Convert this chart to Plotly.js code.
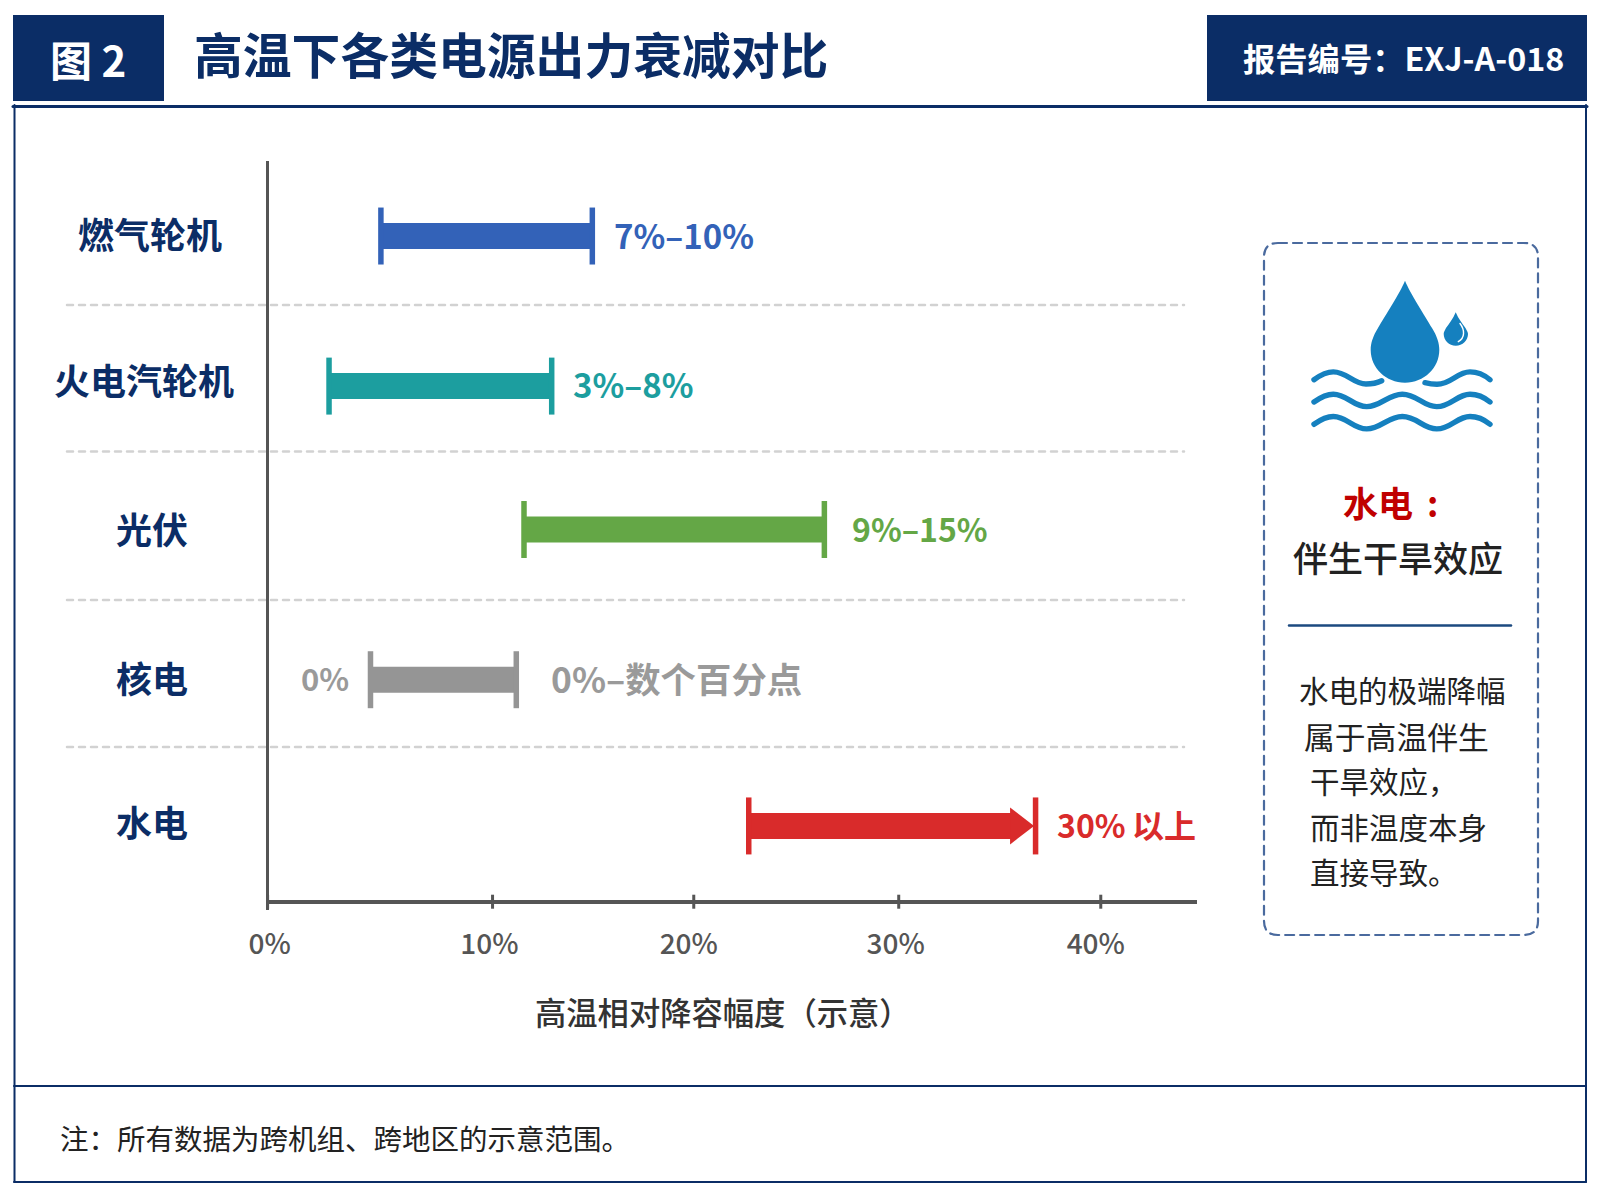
<!DOCTYPE html>
<html>
<head>
<meta charset="utf-8">
<script src="https://cdn.plot.ly/plotly-3.0.1.min.js"></script>
<style>
html,body{margin:0;padding:0;background:#fff}
#chart{width:1600px;height:1200px}
.shapelayer path{stroke-linecap:round}
</style>
</head>
<body>
<div id="chart"></div>
<script>
// ---- chart data ----
const categories = ['燃气轮机','火电汽轮机','光伏','核电','水电'];
const rowCenters = [4.498,3.484,2.515,1.5,0.512];
const rangeStart = [5.44,2.95,12.31,4.94,23.1];
const rangeEnd   = [15.59,13.64,26.73,11.94,36.87];
const bodyEnd    = [15.59,13.64,26.73,11.94,35.7];
const barColors  = ['#3362B8','#1C9E9F','#64A746','#959595','#D92B2B'];
const valueLabels = ['7%–10%','3%–8%','9%–15%','0%–数个百分点','30%\u2009以上'];
const labelColors = ['#3362B8','#1C9E9F','#64A746','#9A9A9A','#D92B2B'];
const labelShift  = [20,19,26,33,19];
const labelLift   = [1,2,2,2,2];
const labelSizes  = [33,33,32,35.4,32];
const arrowHeadAt = 36.03;
const tickPositions = [0,10.8,20.46,30.3,40];
const tickLabelPositions = [0.1,10.65,20.22,30.15,39.76];
const tickLabels = ['0%','10%','20%','30%','40%'];
const noteLines = ['水电的极端降幅','属于高温伴生','干旱效应，','而非温度本身','直接导致。'];
const noteX = [1297,1302,1308,1308,1308];
const noteY = [689,735,780,826,870.5];
const noteSizes = [29.5,30.8,29.5,29.5,29.5];

// ---- layout helpers (page pixels -> paper) ----
const W=1600,H=1200;
const fx=x=>x/W, fy=y=>1-y/H;
const NAVY='#0B2D66', CJK='"Noto Sans CJK SC","Noto Sans",sans-serif';
const rect=(x0,y0,x1,y1,fill)=>({type:'rect',xref:'paper',yref:'paper',x0:fx(x0),x1:fx(x1),y0:fy(y0),y1:fy(y1),fillcolor:fill,line:{width:0},layer:'below'});
const hline=(x0,x1,y,color,width,dash)=>({type:'line',xref:'paper',yref:'paper',x0:fx(x0),x1:fx(x1),y0:fy(y),y1:fy(y),line:{color,width,dash:dash||'solid'},layer:'below'});
const vline=(x,y0,y1,color,width)=>({type:'line',xref:'paper',yref:'paper',x0:fx(x),x1:fx(x),y0:fy(y0),y1:fy(y1),line:{color,width},layer:'below'});
function pathOf(cmds){
  return cmds.map(c=>c[0]+(c.slice(1).map(p=>fx(p[0])+','+fy(p[1])).join(' '))).join(' ')
}
const pathShape=(cmds,opt)=>Object.assign({type:'path',xref:'paper',yref:'paper',path:pathOf(cmds),layer:'above',line:{width:0}},opt);
const txt=(x,y,text,size,color,weight,anchor)=>({xref:'paper',yref:'paper',x:fx(x),y:fy(y),text,showarrow:false,xanchor:anchor||'left',yanchor:'middle',font:{family:CJK,size,color,weight:weight||400}});

const BLUE='#1580BF', NOFILL='rgba(0,0,0,0)', WAVE_W=5.4;
const wave=(dy)=>[['M',[1314,379.7+dy]],['C',[1322,374+dy],[1328,371.9+dy],[1333.3,371.9+dy]],['C',[1347,371.9+dy],[1353,384.3+dy],[1366.7,384.3+dy]],['C',[1381,384.3+dy],[1388,371.9+dy],[1402.3,371.9+dy]],['C',[1417,371.9+dy],[1423,384.3+dy],[1436.7,384.3+dy]],['C',[1451,384.3+dy],[1457,371.9+dy],[1470,371.9+dy]],['C',[1477,371.9+dy],[1484,374.7+dy],[1490,379.7+dy]]];

const r=14, bx0=1264,by0=243,bx1=1538,by1=935;
const shapes=[
  rect(13,15,164,101,NAVY),
  rect(1207,15,1587,101,NAVY),
  hline(13,1587,106.5,NAVY,3),
  vline(14.5,105,1182,NAVY,2),
  vline(1586,105,1182,NAVY,2),
  hline(14,1586,1086,NAVY,2),
  hline(14,1586,1182,NAVY,2),
  hline(67,1184,305,'#D2D2D2',2.5,'6px,6px'),
  hline(67,1184,451.5,'#D2D2D2',2.5,'6px,6px'),
  hline(67,1184,600,'#D2D2D2',2.5,'6px,6px'),
  hline(67,1184,747,'#D2D2D2',2.5,'6px,6px'),
  // side panel
  pathShape([['M',[bx0+r,by0]],['L',[bx1-r,by0]],['Q',[bx1,by0],[bx1,by0+r]],['L',[bx1,by1-r]],['Q',[bx1,by1],[bx1-r,by1]],['L',[bx0+r,by1]],['Q',[bx0,by1],[bx0,by1-r]],['L',[bx0,by0+r]],['Q',[bx0,by0],[bx0+r,by0]]],
    {line:{color:'#4A6A9E',width:2.2,dash:'9px,6px'},fillcolor:NOFILL}),
  hline(1289,1511,625.5,'#1C4A80',2.5),
  // water icon
  pathShape([['M',[1405,280.7]],['C',[1400,293],[1385,316],[1378,328]],['C',[1373,336],[1370.7,343],[1370.7,350]],['C',[1370.7,368],[1386,382.7],[1405,382.7]],['C',[1424,382.7],[1439.3,368],[1439.3,350]],['C',[1439.3,343],[1437,336],[1432,328]],['C',[1425,316],[1410,293],[1405,280.7]],['Z']],{fillcolor:BLUE}),
  pathShape([['M',[1455.7,312.3]],['C',[1453,319],[1449,324],[1446,328]],['C',[1444.5,331],[1443.7,332],[1443.7,334]],['C',[1443.7,340.5],[1449,345.7],[1455.8,345.7]],['C',[1462.6,345.7],[1468,340.5],[1468,334]],['C',[1468,332],[1467,331],[1465.5,328]],['C',[1462.5,324],[1458.5,319],[1455.7,312.3]],['Z']],{fillcolor:BLUE}),
  pathShape([['M',[1460,323.5]],['C',[1465,330],[1465,338],[1458.3,341.7]]],{line:{color:'#FFFFFF',width:1.4},fillcolor:NOFILL}),
  pathShape([['M',[1314,379.7]],['C',[1322,374],[1328,371.9],[1333.3,371.9]],['C',[1347,371.9],[1353,384],[1366,384]],['C',[1372,384],[1377,383],[1381.7,380.7]]],{line:{color:BLUE,width:WAVE_W},fillcolor:NOFILL}),
  pathShape([['M',[1425,382.7]],['C',[1430,384],[1433,384.3],[1437,384.3]],['C',[1451,384.3],[1457,371.9],[1470,371.9]],['C',[1477,371.9],[1484,374.7],[1490,379.7]]],{line:{color:BLUE,width:WAVE_W},fillcolor:NOFILL}),
  pathShape(wave(22.3),{line:{color:BLUE,width:WAVE_W},fillcolor:NOFILL}),
  pathShape(wave(44.6),{line:{color:BLUE,width:WAVE_W},fillcolor:NOFILL})
];

const annotations=[
  txt(87.5,58,'图 2',42,'#FFFFFF',700,'center'),
  txt(1241,57,'报告编号：EXJ-A-018',32.3,'#FFFFFF',700),
  txt(722.7,1011,'高温相对降容幅度（示意）',31.3,'#333333',500,'center'),
  txt(58,1137,'注：所有数据为跨机组、跨地区的示意范围。',28.5,'#222222',400),
  txt(1341,501,'水电\u2009\u2009:',35,'#C00000',700),
  txt(1291,556,'伴生干旱效应',35,'#222222',500),
  {xref:'x',yref:'y',x:rangeStart[3],y:rowCenters[3],yshift:2,text:'0%',xanchor:'right',xshift:-19,yanchor:'middle',showarrow:false,font:{family:CJK,size:31,color:'#9A9A9A',weight:700}}
];
const categoryCenterX=[150,144,152,152,152];
const categoryShift=[3,7,2,3,5];
categories.forEach((c,i)=>annotations.push({xref:'paper',yref:'y',x:fx(categoryCenterX[i]),y:rowCenters[i],yshift:categoryShift[i],text:c,showarrow:false,xanchor:'center',yanchor:'middle',font:{family:CJK,size:36,color:NAVY,weight:700}}));
valueLabels.forEach((t,i)=>annotations.push({xref:'x',yref:'y',x:rangeEnd[i],y:rowCenters[i],xshift:labelShift[i],yshift:labelLift[i],text:t,showarrow:false,xanchor:'left',yanchor:'middle',font:{family:CJK,size:labelSizes[i],color:labelColors[i],weight:700}}));
noteLines.forEach((t,i)=>annotations.push(txt(noteX[i],noteY[i],t,noteSizes[i],'#222222',400)));

const traces=[
  {type:'bar',orientation:'h',y:rowCenters,base:rangeStart,x:bodyEnd.map((e,i)=>e-rangeStart[i]),width:0.176,marker:{color:barColors,line:{width:0}},showlegend:false,hoverinfo:'skip'},
  {type:'scatter',mode:'markers',x:rangeStart.concat(rangeEnd),y:rowCenters.concat(rowCenters),cliponaxis:false,showlegend:false,hoverinfo:'skip',
   marker:{symbol:'line-ns',size:40.7,color:barColors.concat(barColors),line:{width:5.5,color:barColors.concat(barColors)}}},
  {type:'scatter',mode:'markers',x:[arrowHeadAt],y:[rowCenters[4]],showlegend:false,hoverinfo:'skip',
   marker:{symbol:'triangle-right',size:32,color:barColors[4],line:{width:0}}},
  {type:'scatter',mode:'markers',x:tickPositions,y:tickPositions.map(()=>0),cliponaxis:false,showlegend:false,hoverinfo:'skip',
   marker:{symbol:'line-ns',size:10,color:'#555555',line:{width:3,color:'#555555'}}}
];

const layout={
  width:W,height:H,margin:{l:0,r:0,t:0,b:0},paper_bgcolor:'#FFFFFF',plot_bgcolor:'rgba(0,0,0,0)',showlegend:false,
  title:{text:'高温下各类电源出力衰减对比',xref:'container',yref:'container',x:194/W,xanchor:'left',y:1-57/H,yanchor:'middle',font:{family:CJK,size:48.8,color:NAVY,weight:700}},
  xaxis:{domain:[265.8/W,1197/W],range:[-0.086,44.62],tickmode:'array',tickvals:tickLabelPositions,ticktext:tickLabels,ticks:'',showgrid:false,
    zeroline:true,zerolinecolor:'#555555',zerolinewidth:3.5,showline:false,anchor:'y',fixedrange:true,ticklabelstandoff:15,tickfont:{family:CJK,size:28,color:'#555555',weight:500}},
  yaxis:{domain:[1-910/H,1-161/H],range:[-0.056,5.005],showticklabels:false,ticks:'',showgrid:false,
    zeroline:true,zerolinecolor:'#555555',zerolinewidth:4,showline:false,anchor:'x',fixedrange:true},
  shapes,annotations
};
Plotly.newPlot('chart',traces,layout,{staticPlot:true,displayModeBar:false});
</script>
</body>
</html>
